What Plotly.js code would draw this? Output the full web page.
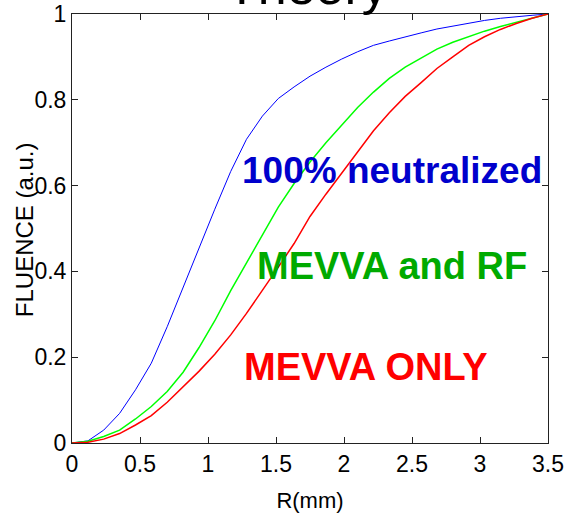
<!DOCTYPE html>
<html>
<head>
<meta charset="utf-8">
<script src="https://cdn.plot.ly/plotly-3.0.1.min.js"></script>
<style>
  html, body { margin: 0; padding: 0; background: #fff; }
  #chart { width: 568px; height: 513px; }
</style>
</head>
<body>
<div id="chart"></div>
<script>
// Radial positions (mm), 31 samples from 0 to 3.5
const radius = [0, 0.117, 0.233, 0.35, 0.467, 0.583, 0.7, 0.817, 0.933, 1.05,
  1.167, 1.283, 1.4, 1.517, 1.633, 1.75, 1.867, 1.983, 2.1, 2.217,
  2.333, 2.45, 2.567, 2.683, 2.8, 2.917, 3.033, 3.15, 3.267, 3.383, 3.5];

// Normalised cumulative fluence for each beam condition
const fluenceNeutralized = [0, 0.005, 0.03, 0.069, 0.124, 0.186, 0.271, 0.364, 0.455, 0.545,
  0.633, 0.708, 0.762, 0.803, 0.83, 0.855, 0.876, 0.895, 0.912, 0.927,
  0.937, 0.947, 0.956, 0.965, 0.972, 0.979, 0.985, 0.99, 0.994, 0.997, 1.0];

const fluenceMevvaRf = [0, 0.004, 0.015, 0.03, 0.056, 0.085, 0.12, 0.165, 0.222, 0.285,
  0.355, 0.42, 0.488, 0.55, 0.605, 0.655, 0.7, 0.742, 0.782, 0.818,
  0.85, 0.876, 0.898, 0.918, 0.934, 0.948, 0.96, 0.971, 0.981, 0.991, 1.0];

const fluenceMevvaOnly = [0, 0.002, 0.009, 0.022, 0.042, 0.064, 0.095, 0.13, 0.167, 0.207,
  0.252, 0.302, 0.355, 0.41, 0.465, 0.528, 0.58, 0.63, 0.68, 0.728,
  0.77, 0.808, 0.84, 0.873, 0.9, 0.927, 0.947, 0.964, 0.978, 0.99, 1.0];

const curveLabels = ['100% neutralized', 'MEVVA and RF', 'MEVVA ONLY'];
const xTicks = [0, 0.5, 1, 1.5, 2, 2.5, 3, 3.5];
const xTickText = ['0', '0.5', '1', '1.5', '2', '2.5', '3', '3.5'];
const yTicks = [0, 0.2, 0.4, 0.6, 0.8, 1];
const yTickText = ['0', '0.2', '0.4', '0.6', '0.8', '1'];

const FONT = 'Liberation Sans, Arial, sans-serif';

const traces = [
  { x: radius, y: fluenceNeutralized, name: curveLabels[0], mode: 'lines',
    line: { color: '#0000ff', width: 1 } },
  { x: radius, y: fluenceMevvaRf, name: curveLabels[1], mode: 'lines',
    line: { color: '#00ff00', width: 1.5 } },
  { x: radius, y: fluenceMevvaOnly, name: curveLabels[2], mode: 'lines',
    line: { color: '#ff0000', width: 1.5 } }
];

const axisCommon = {
  showgrid: false, zeroline: false,
  showline: true, linecolor: '#222', linewidth: 1, mirror: 'ticks',
  ticks: 'inside', ticklen: 6, tickcolor: '#222', tickwidth: 1,
  tickfont: { family: FONT, size: 23, color: '#000' }
};

const layout = {
  width: 568, height: 513,
  margin: { l: 72, r: 20, t: 14, b: 70 },
  paper_bgcolor: '#fff', plot_bgcolor: '#fff',
  showlegend: false,
  xaxis: Object.assign({}, axisCommon, {
    range: [0, 3.5], tickvals: xTicks, ticktext: xTickText,
    title: { text: 'R(mm)', standoff: 17, font: { family: FONT, size: 22, color: '#000' } }
  }),
  yaxis: Object.assign({}, axisCommon, {
    range: [0, 1], tickvals: yTicks, ticktext: yTickText
  }),
  annotations: [
    { text: 'Theory', xref: 'paper', yref: 'paper', x: 0.494, y: 0.993, xanchor: 'center', yanchor: 'bottom',
      showarrow: false, font: { family: FONT, size: 52, color: '#000' } },
    // vertical axis label, set close against the tick numbers
    { text: 'FLUENCE (a.u.)', xref: 'paper', yref: 'paper', x: -0.1, y: 0.497, textangle: -90,
      xanchor: 'center', yanchor: 'middle', showarrow: false,
      font: { family: FONT, size: 24, color: '#000' } },
    { text: '<b>' + curveLabels[0] + '</b>', xref: 'paper', yref: 'paper', x: 0.672, y: 0.635,
      xanchor: 'center', yanchor: 'middle', showarrow: false,
      font: { family: FONT, size: 37, color: '#0000cc' } },
    { text: '<b>' + curveLabels[1] + '</b>', xref: 'paper', yref: 'paper', x: 0.672, y: 0.413,
      xanchor: 'center', yanchor: 'middle', showarrow: false,
      font: { family: FONT, size: 38, color: '#00aa00' } },
    { text: '<b>' + curveLabels[2] + '</b>', xref: 'paper', yref: 'paper', x: 0.617, y: 0.177,
      xanchor: 'center', yanchor: 'middle', showarrow: false,
      font: { family: FONT, size: 38, color: '#ff0000' } }
  ]
};

Plotly.newPlot('chart', traces, layout, { displayModeBar: false, staticPlot: true });
</script>
</body>
</html>
